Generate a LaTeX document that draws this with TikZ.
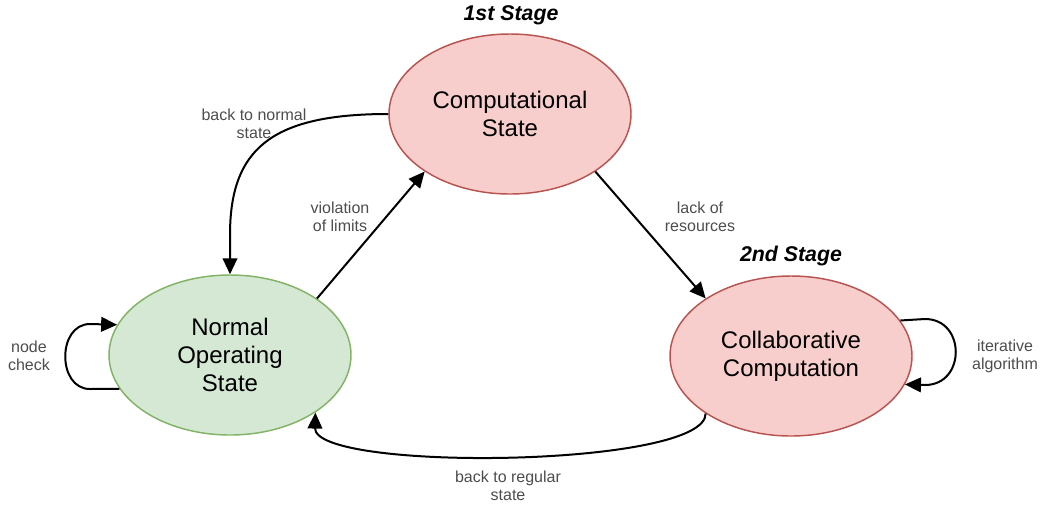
\documentclass[tikz,border=0pt]{standalone}
\usepackage{fontspec}
\setmainfont{Liberation Sans}
\usetikzlibrary{shapes.geometric,arrows.meta}
\definecolor{redfill}{HTML}{F8CECC}
\definecolor{redline}{HTML}{B85450}
\definecolor{greenfill}{HTML}{D5E8D4}
\definecolor{greenline}{HTML}{82B366}
\definecolor{labelgray}{HTML}{4D4D4D}
\tikzset{
  state/.style={ellipse, draw, line width=1.1pt, minimum width=181.5pt,
    minimum height=120pt, inner sep=0pt, align=center,
    font=\fontsize{18}{21}\selectfont},
  redstate/.style={state, fill=redfill, draw=redline},
  greenstate/.style={state, fill=greenfill, draw=greenline},
  trans/.style={line width=1.5pt, -{Triangle[length=12pt,width=11pt]}},
  lbl/.style={align=center, text=labelgray, inner sep=1pt,
    font=\fontsize{12}{13.5}\selectfont},
  stage/.style={inner sep=1pt, font=\fontsize{16}{18}\selectfont\bfseries\itshape}
}
\begin{document}
\begin{tikzpicture}[x=0.75pt,y=-0.75pt]
  \useasboundingbox (0,0) rectangle (1042,508);

  % states
  \node[redstate]   (cs)  at (510,114) {Computational\\State};
  \node[greenstate] (nos) at (230,355) {Normal\\Operating\\State};
  \node[redstate]   (cc)  at (791,356) {Collaborative\\Computation};

  % stage titles
  \node[stage] (s1) at (511,15)  {1st Stage};
  \node[stage] (s2) at (791,256) {2nd Stage};

  % transitions
  \draw[trans] (cs.west) .. controls (270,114) and (230,150) .. (230,235) -- (nos.north);
  \draw[trans] (nos.33.8) -- (cs.214.8);
  \draw[trans] (cs.326.2) -- (cc.146);
  \draw[trans] (cc.214.3) .. controls (706,468) and (314,472) .. (nos.326.3);
  \draw[trans] (nos.197.6) -- (90,389) .. controls (57,389) and (57,324) .. (90,324) -- (nos.165.3);
  \draw[trans] (cc.18.3) -- (925,319) .. controls (966,319) and (966,385) .. (925,385) -- (cc.-14.3);

  % transition labels
  \node[lbl] (l1) at (254,124) {back to normal\\state};
  \node[lbl] (l2) at (340,217) {violation\\of limits};
  \node[lbl] (l3) at (700,217) {lack of\\resources};
  \node[lbl] (l4) at (508,486) {back to regular\\state};
  \node[lbl] (l5) at (29,356)  {node\\check};
  \node[lbl] (l6) at (1005,356) {iterative\\algorithm};
\end{tikzpicture}
\end{document}
